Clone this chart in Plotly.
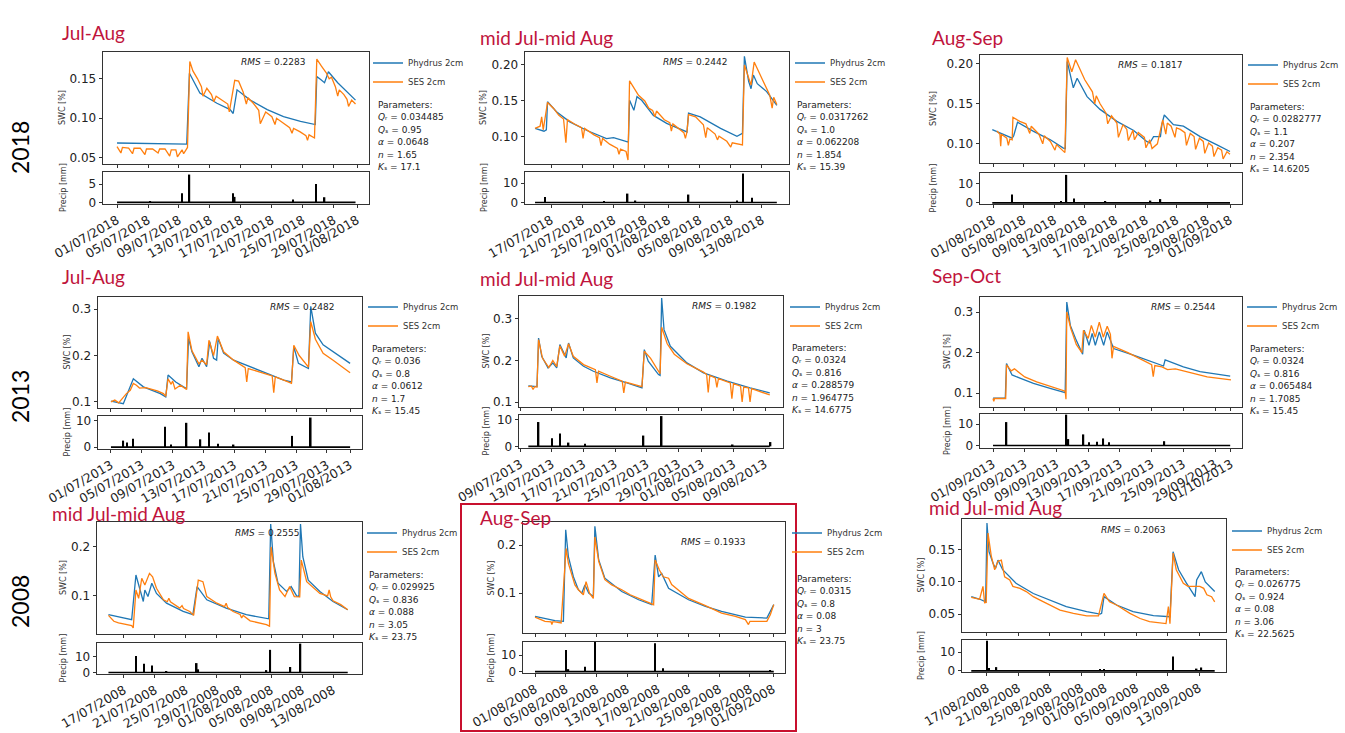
import pandas as pd
import plotly.graph_objects as go

W, H = 1345, 733
BLUE = "#1f77b4"
ORANGE = "#ff7f0e"
TITLE_RED = "#c0143c"

# ---------------------------------------------------------------- data
# day offsets are counted from each panel's start date
# Panel A: 2018 Jul-Aug
A_START = "2018-07-01"
A_PHY_DAY = [0, 9.0, 9.35, 10.7, 12.9, 14.6, 15.0, 15.5, 17.2, 19.4, 21.5, 23.7, 25.6, 25.8, 26.3, 26.8, 27.3, 28.5, 30.8]
A_PHY = [0.0686, 0.0673, 0.157, 0.132, 0.119, 0.111, 0.106, 0.136, 0.123, 0.111, 0.102, 0.096, 0.092, 0.153, 0.149, 0.145, 0.159, 0.145, 0.123]
A_SES_DAY = [0, 0.5, 0.7, 1.5, 2.0, 2.2, 3.0, 3.6, 3.8, 4.6, 5.3, 5.5, 6.2, 6.8, 7.0, 7.6, 7.8, 8.4, 8.6, 9.1,
             9.4, 9.8, 10.4, 10.9, 11.1, 11.6, 12.2, 12.5, 12.8, 13.6, 14.3, 14.5, 14.7, 15.2, 15.7, 16.3, 16.7, 16.9, 17.6, 18.3,
             18.5, 19.2, 20.0, 20.4, 20.6, 21.4, 22.3, 22.6, 22.8, 23.6, 24.4, 24.6, 24.8, 25.5, 25.8, 26.4, 27.0, 27.4, 27.7, 28.2,
             28.5, 28.7, 29.3, 29.7, 29.9, 30.3, 30.8]
A_SES = [0.064, 0.056, 0.063, 0.062, 0.055, 0.062, 0.062, 0.054, 0.061, 0.061, 0.056, 0.061, 0.061, 0.052, 0.060, 0.060, 0.051, 0.060, 0.055, 0.063,
         0.172, 0.160, 0.150, 0.140, 0.128, 0.138, 0.130, 0.121, 0.128, 0.123, 0.118, 0.108, 0.118, 0.148, 0.147, 0.133, 0.118, 0.126, 0.119, 0.110,
         0.093, 0.108, 0.102, 0.092, 0.100, 0.094, 0.088, 0.081, 0.087, 0.083, 0.078, 0.072, 0.079, 0.075, 0.175, 0.166, 0.158, 0.150, 0.152, 0.140,
         0.128, 0.136, 0.130, 0.124, 0.115, 0.123, 0.118]
A_RAIN_DAY = [4.3, 8.4, 9.35, 15.0, 15.2, 22.7, 25.7, 26.8]
A_RAIN = [0.2, 2.5, 7.6, 2.5, 1.5, 0.8, 5.0, 1.4]
A_TICKS = ["01/07/2018", "05/07/2018", "09/07/2018", "13/07/2018", "17/07/2018", "21/07/2018", "25/07/2018", "29/07/2018", "01/08/2018"]

# Panel B: 2018 mid Jul-mid Aug
B_START = "2018-07-17"
B_PHY_DAY = [-2.05, -0.9, -0.6, -0.45, 0.7, 2.4, 4.6, 6.7, 7.1, 8.0, 9.9, 10.05, 10.6, 11.0, 11.6, 13.1, 14.8, 17.4, 17.6, 19.1,
             21.7, 23.8, 24.5, 24.75, 25.3, 25.6, 25.9, 26.4, 27.6, 28.9]
B_PHY = [0.112, 0.108, 0.110, 0.149, 0.135, 0.121, 0.109, 0.099, 0.0977, 0.099, 0.093, 0.151, 0.137, 0.156, 0.151, 0.130, 0.119, 0.107, 0.133, 0.128,
         0.112, 0.101, 0.105, 0.212, 0.177, 0.167, 0.186, 0.174, 0.163, 0.144]
B_SES_DAY = [-2.05, -1.4, -1.2, -1.0, -0.45, 0.3, 1.0, 1.6, 1.9, 2.1, 3.0, 3.9, 4.1, 4.3, 5.5, 6.2, 6.4, 6.6, 7.5, 8.5,
             8.7, 8.9, 9.6, 9.85, 10.05, 10.5, 11.2, 12.0, 12.5, 13.0, 13.3, 13.5, 14.5, 15.2, 15.4, 15.6, 16.5, 17.0, 17.2, 17.4,
             17.6, 18.5, 19.5, 19.8, 20.0, 21.0, 21.3, 21.5, 22.5, 23.0, 23.2, 24.5, 24.75, 25.2, 25.6, 26.0, 26.5, 27.0, 27.5, 28.0,
             28.3, 28.5, 28.9]
B_SES = [0.112, 0.115, 0.128, 0.110, 0.148, 0.140, 0.130, 0.125, 0.092, 0.124, 0.118, 0.113, 0.098, 0.112, 0.103, 0.099, 0.088, 0.098, 0.090, 0.084,
         0.076, 0.083, 0.080, 0.068, 0.178, 0.170, 0.158, 0.150, 0.140, 0.137, 0.128, 0.136, 0.124, 0.120, 0.108, 0.118, 0.110, 0.106, 0.098, 0.107,
         0.131, 0.128, 0.117, 0.099, 0.113, 0.104, 0.096, 0.101, 0.094, 0.086, 0.092, 0.089, 0.200, 0.186, 0.172, 0.204, 0.193, 0.180, 0.170, 0.158,
         0.140, 0.155, 0.145]
B_RAIN_DAY = [-0.77, 6.8, 9.8, 10.8, 17.6, 23.8, 24.6, 25.7]
B_RAIN = [2.8, 0.8, 4.6, 1.0, 4.1, 1.0, 15.0, 2.5]
B_TICKS = ["17/07/2018", "21/07/2018", "25/07/2018", "29/07/2018", "01/08/2018", "05/08/2018", "09/08/2018", "13/08/2018"]

# Panel C: 2018 Aug-Sep
C_START = "2018-08-01"
C_PHY_DAY = [-0.1, 2.5, 2.7, 3.2, 5.3, 7.5, 9.2, 9.45, 9.7, 10.3, 10.5, 11.0, 12.3, 14.0, 16.2, 18.4, 20.1, 20.5, 21.0, 21.9,
             22.1, 22.4, 23.6, 24.9, 27.1, 29.3, 31.0]
C_PHY = [0.1176, 0.107, 0.110, 0.127, 0.1155, 0.105, 0.0946, 0.094, 0.203, 0.180, 0.170, 0.182, 0.159, 0.143, 0.128, 0.1167, 0.103, 0.101, 0.109, 0.109,
         0.125, 0.136, 0.124, 0.122, 0.109, 0.0987, 0.0904]
C_SES_DAY = [0.5, 0.9, 1.0, 1.1, 1.8, 2.0, 2.2, 2.5, 2.6, 3.5, 4.3, 4.8, 5.0, 6.0, 6.5, 6.7, 7.5, 8.1, 8.3, 9.4,
             9.7, 10.3, 10.8, 11.3, 12.0, 13.0, 13.3, 13.5, 14.0, 14.8, 15.0, 15.5, 16.2, 16.4, 17.0, 17.5, 17.7, 18.3, 18.5, 19.0,
             19.8, 20.0, 20.5, 20.8, 21.5, 22.2, 22.6, 22.8, 23.3, 23.8, 24.0, 24.5, 25.1, 25.3, 25.8, 26.3, 26.5, 27.0, 27.5, 27.7,
             28.2, 28.7, 28.9, 29.4, 29.9, 30.1, 30.6, 31.0]
C_SES = [0.116, 0.112, 0.097, 0.112, 0.107, 0.098, 0.106, 0.105, 0.133, 0.128, 0.125, 0.113, 0.122, 0.112, 0.100, 0.110, 0.103, 0.092, 0.099, 0.089,
         0.208, 0.190, 0.205, 0.195, 0.180, 0.165, 0.150, 0.160, 0.150, 0.138, 0.125, 0.135, 0.126, 0.108, 0.124, 0.118, 0.104, 0.117, 0.105, 0.114,
         0.108, 0.095, 0.105, 0.094, 0.100, 0.130, 0.112, 0.126, 0.122, 0.108, 0.120, 0.118, 0.114, 0.098, 0.113, 0.109, 0.093, 0.107, 0.103, 0.088,
         0.101, 0.097, 0.084, 0.095, 0.092, 0.081, 0.090, 0.087]
C_RAIN_DAY = [2.5, 8.9, 9.6, 10.6, 14.7, 20.6, 21.9]
C_RAIN = [4.4, 1.0, 14.8, 2.3, 0.5, 1.2, 2.0]
C_TICKS = ["01/08/2018", "05/08/2018", "09/08/2018", "13/08/2018", "17/08/2018", "21/08/2018", "25/08/2018", "29/08/2018", "01/09/2018"]

# Panel D: 2013 Jul-Aug
D_START = "2013-07-01"
D_PHY_DAY = [0, 1.6, 2.9, 4.2, 6.4, 7.1, 7.4, 8.1, 8.4, 9.4, 9.8, 10.06, 10.5, 11.4, 11.8, 12.4, 12.8, 13.3, 13.7, 13.9,
             14.6, 15.9, 18.0, 20.2, 22.4, 23.4, 23.7, 24.3, 25.6, 25.9, 26.5, 27.5, 28.8, 31.0]
D_PHY = [0.102, 0.0964, 0.150, 0.1325, 0.118, 0.111, 0.158, 0.147, 0.143, 0.1325, 0.129, 0.237, 0.208, 0.176, 0.194, 0.176, 0.230, 0.194, 0.190, 0.237,
         0.205, 0.190, 0.176, 0.161, 0.147, 0.143, 0.219, 0.183, 0.172, 0.306, 0.248, 0.223, 0.208, 0.183]
D_SES_DAY = [0, 0.5, 1.0, 1.6, 2.0, 2.5, 2.9, 3.3, 3.7, 4.5, 5.2, 6.0, 6.8, 7.1, 7.4, 7.8, 8.0, 8.3, 9.0, 9.8,
             10.0, 10.5, 11.4, 11.8, 12.4, 12.7, 13.3, 13.8, 14.6, 15.9, 17.4, 17.6, 17.8, 19.0, 20.0, 20.9, 21.1, 21.3, 22.4, 23.4,
             23.7, 24.4, 25.6, 25.9, 26.5, 27.5, 28.8, 31.0]
D_SES = [0.100, 0.104, 0.098, 0.110, 0.118, 0.125, 0.140, 0.136, 0.130, 0.131, 0.128, 0.124, 0.118, 0.112, 0.150, 0.138, 0.145, 0.128, 0.136, 0.127,
         0.251, 0.210, 0.182, 0.190, 0.180, 0.233, 0.200, 0.242, 0.208, 0.190, 0.174, 0.143, 0.172, 0.166, 0.160, 0.156, 0.120, 0.154, 0.147, 0.140,
         0.222, 0.200, 0.175, 0.273, 0.235, 0.205, 0.190, 0.163]
D_RAIN_DAY = [1.6, 2.1, 2.85, 7.0, 7.8, 9.8, 11.6, 12.7, 13.9, 15.9, 23.5, 25.9]
D_RAIN = [2.5, 1.8, 3.2, 7.8, 1.0, 9.3, 3.0, 5.6, 1.3, 1.0, 4.3, 11.3]
D_TICKS = ["01/07/2013", "05/07/2013", "09/07/2013", "13/07/2013", "17/07/2013", "21/07/2013", "25/07/2013", "29/07/2013", "01/08/2013"]

# Panel E: 2013 mid Jul-mid Aug
E_START = "2013-07-09"
E_PHY_DAY = [1.0, 2.1, 2.3, 2.7, 3.5, 4.1, 4.6, 5.0, 5.8, 6.1, 6.7, 8.0, 9.25, 11.4, 13.5, 15.4, 15.7, 16.2, 17.5, 17.7,
             17.9, 18.2, 19.0, 21.1, 23.2, 26.2, 29.1, 31.6]
E_PHY = [0.139, 0.137, 0.254, 0.210, 0.182, 0.194, 0.182, 0.238, 0.206, 0.242, 0.206, 0.186, 0.174, 0.158, 0.146, 0.134, 0.226, 0.198, 0.166, 0.164,
         0.350, 0.274, 0.234, 0.194, 0.170, 0.150, 0.134, 0.122]
E_SES_DAY = [1.0, 1.4, 1.6, 1.8, 2.1, 2.3, 2.8, 3.6, 4.1, 4.6, 5.0, 5.6, 6.1, 6.7, 8.0, 9.5, 9.7, 9.9, 11.4, 12.9,
             13.1, 13.3, 15.4, 15.7, 16.5, 17.5, 17.7, 17.9, 18.6, 19.5, 21.1, 23.2, 23.6, 23.8, 24.0, 24.7, 24.9, 25.1, 26.2, 26.6,
             26.8, 27.0, 27.9, 28.1, 28.3, 28.9, 29.1, 29.3, 31.6]
E_SES = [0.137, 0.138, 0.130, 0.137, 0.136, 0.250, 0.205, 0.183, 0.200, 0.185, 0.235, 0.210, 0.240, 0.210, 0.190, 0.178, 0.146, 0.174, 0.162, 0.150,
         0.122, 0.148, 0.137, 0.222, 0.205, 0.172, 0.168, 0.280, 0.240, 0.215, 0.192, 0.172, 0.166, 0.123, 0.164, 0.158, 0.135, 0.156, 0.150, 0.146,
         0.108, 0.144, 0.138, 0.100, 0.136, 0.134, 0.100, 0.132, 0.117]
E_RAIN_DAY = [2.3, 4.0, 5.0, 6.1, 8.2, 15.6, 17.9, 26.9, 31.7]
E_RAIN = [9.0, 3.0, 4.8, 1.4, 1.0, 4.0, 11.2, 0.7, 1.6]
E_TICKS = ["09/07/2013", "13/07/2013", "17/07/2013", "21/07/2013", "25/07/2013", "29/07/2013", "01/08/2013", "05/08/2013", "09/08/2013"]

# Panel F: 2013 Sep-Oct
F_START = "2013-09-01"
F_PHY_DAY = [0, 1.55, 1.7, 2.4, 3.4, 5.1, 7.2, 9.1, 9.3, 9.75, 10.4, 11.3, 11.5, 12.1, 12.5, 12.9, 13.4, 13.95, 14.4, 15.2,
             17.7, 19.8, 21.5, 21.7, 24.0, 26.1, 29.9]
F_PHY = [0.0878, 0.0878, 0.173, 0.145, 0.137, 0.124, 0.112, 0.1016, 0.3245, 0.267, 0.235, 0.196, 0.255, 0.218, 0.247, 0.218, 0.251, 0.218, 0.251, 0.210,
         0.194, 0.178, 0.167, 0.182, 0.165, 0.153, 0.142]
F_SES_DAY = [0, 0.1, 0.2, 1.6, 1.7, 2.3, 2.7, 4.0, 5.5, 7.5, 9.1, 9.2, 9.3, 9.8, 10.5, 11.2, 11.4, 12.0, 12.4, 12.9,
             13.4, 13.9, 14.4, 14.8, 15.0, 15.2, 17.0, 20.0, 20.2, 20.4, 21.3, 22.0, 23.0, 25.0, 27.0, 30.0]
F_SES = [0.087, 0.080, 0.087, 0.087, 0.170, 0.155, 0.160, 0.140, 0.128, 0.115, 0.105, 0.085, 0.300, 0.260, 0.220, 0.200, 0.255, 0.235, 0.267, 0.238,
         0.275, 0.238, 0.265, 0.245, 0.186, 0.215, 0.200, 0.170, 0.141, 0.168, 0.165, 0.158, 0.160, 0.150, 0.140, 0.133]
F_RAIN_DAY = [1.7, 9.25, 9.5, 11.4, 12.1, 13.1, 13.9, 14.6, 21.6]
F_RAIN = [11.0, 14.5, 3.0, 5.2, 1.5, 1.8, 3.3, 1.5, 2.0]
F_TICKS = ["01/09/2013", "05/09/2013", "09/09/2013", "13/09/2013", "17/09/2013", "21/09/2013", "25/09/2013", "29/09/2013", "01/10/2013"]

# Panel G: 2008 mid Jul-mid Aug
G_START = "2008-07-17"
G_PHY_DAY = [-2.0, 1.0, 1.55, 2.1, 2.5, 2.7, 3.1, 3.6, 4.2, 5.5, 7.65, 8.9, 9.45, 10.7, 13.2, 15.8, 18.4, 18.7, 18.95, 19.3,
             19.9, 21.0, 21.6, 22.3, 22.6, 22.8, 23.1, 23.8, 25.3, 27.0, 28.9]
G_PHY = [0.0615, 0.0514, 0.1426, 0.1088, 0.0885, 0.112, 0.0986, 0.1257, 0.105, 0.085, 0.0682, 0.0615, 0.119, 0.092, 0.075, 0.0615, 0.0534, 0.053, 0.247, 0.170,
         0.1257, 0.109, 0.119, 0.100, 0.099, 0.247, 0.180, 0.132, 0.109, 0.0885, 0.0716]
G_SES_DAY = [-2.0, -1.3, -0.7, 0.5, 1.0, 1.2, 1.55, 1.9, 2.3, 2.7, 3.3, 3.7, 4.2, 5.1, 5.6, 5.8, 6.0, 7.2, 7.5, 7.7,
             8.5, 9.0, 9.6, 10.2, 10.7, 12.0, 13.0, 13.2, 13.4, 14.1, 15.0, 15.2, 15.4, 16.3, 17.5, 18.4, 18.8, 19.0, 19.5, 20.1,
             20.8, 21.4, 22.0, 22.7, 22.9, 23.6, 25.3, 26.3, 26.5, 26.7, 27.0, 28.0, 28.9]
G_SES = [0.060, 0.048, 0.0446, 0.041, 0.039, 0.0345, 0.112, 0.095, 0.136, 0.122, 0.146, 0.139, 0.1155, 0.092, 0.088, 0.095, 0.088, 0.075, 0.080, 0.074,
         0.068, 0.060, 0.132, 0.129, 0.0986, 0.085, 0.078, 0.085, 0.076, 0.068, 0.062, 0.055, 0.060, 0.049, 0.045, 0.041, 0.038, 0.200, 0.146, 0.112,
         0.0986, 0.119, 0.0986, 0.098, 0.173, 0.129, 0.105, 0.100, 0.112, 0.098, 0.090, 0.082, 0.0716]
G_RAIN_DAY = [1.55, 2.6, 3.6, 5.5, 9.4, 9.6, 18.4, 18.9, 21.5, 22.8]
G_RAIN = [10.5, 5.5, 4.5, 0.5, 6.0, 2.0, 1.5, 14.5, 3.5, 18.5]
G_TICKS = ["17/07/2008", "21/07/2008", "25/07/2008", "29/07/2008", "01/08/2008", "05/08/2008", "09/08/2008", "13/08/2008"]

# Panel H: 2008 Aug-Sep
H_START = "2008-08-01"
H_PHY_DAY = [0, 2.6, 3.7, 4.0, 4.35, 5.0, 5.65, 6.1, 6.5, 7.0, 7.6, 7.8, 8.3, 9.1, 11.3, 13.5, 15.2, 15.65, 16.1, 16.5,
             17.4, 20.0, 22.2, 24.3, 27.4, 30.2, 30.65, 31.1]
H_PHY = [0.0517, 0.0428, 0.0414, 0.232, 0.176, 0.134, 0.107, 0.100, 0.117, 0.100, 0.093, 0.239, 0.169, 0.131, 0.1034, 0.0862, 0.0759, 0.179, 0.134, 0.141,
         0.110, 0.0862, 0.0724, 0.062, 0.050, 0.048, 0.062, 0.076]
H_SES_DAY = [0, 1.3, 2.1, 2.2, 2.3, 2.6, 3.4, 4.05, 4.35, 5.2, 5.65, 6.3, 6.65, 7.1, 7.6, 7.8, 8.3, 9.1, 10.0, 11.3,
             12.4, 13.5, 14.8, 15.45, 15.65, 16.2, 16.7, 17.4, 17.8, 19.1, 20.0, 22.2, 24.3, 26.1, 27.4, 27.8, 28.0, 28.7, 30.2, 30.65,
             31.1]
H_SES = [0.050, 0.0414, 0.040, 0.0345, 0.040, 0.040, 0.038, 0.193, 0.162, 0.117, 0.107, 0.0966, 0.124, 0.100, 0.089, 0.217, 0.166, 0.128, 0.117, 0.107,
         0.0966, 0.089, 0.0793, 0.0759, 0.169, 0.148, 0.134, 0.131, 0.118, 0.100, 0.089, 0.0738, 0.0586, 0.0517, 0.0448, 0.0345, 0.0414, 0.0414, 0.0414, 0.055,
         0.076]
H_RAIN_DAY = [4.05, 4.35, 6.5, 7.8, 15.65, 16.7, 30.65]
H_RAIN = [13.0, 1.5, 3.0, 18.0, 17.0, 2.0, 1.0]
H_TICKS = ["01/08/2008", "05/08/2008", "09/08/2008", "13/08/2008", "17/08/2008", "21/08/2008", "25/08/2008", "29/08/2008", "01/09/2008"]

# Panel I: 2008 (17 Aug - 15 Sep)
I_START = "2008-08-17"
I_PHY_DAY = [-2.0, -0.9, -0.17, 0.0, 0.26, 0.77, 1.1, 1.4, 2.0, 3.7, 5.9, 8.0, 10.1, 12.7, 14.4, 14.6, 14.9, 16.5, 18.6, 21.2,
             23.3, 23.7, 24.4, 25.4, 26.5, 26.7, 27.3, 27.8, 29.0]
I_PHY = [0.077, 0.073, 0.069, 0.1917, 0.147, 0.129, 0.121, 0.134, 0.119, 0.098, 0.082, 0.0719, 0.0615, 0.0536, 0.050, 0.051, 0.077, 0.064, 0.0536, 0.0474,
         0.0458, 0.147, 0.119, 0.098, 0.077, 0.103, 0.116, 0.100, 0.085]
I_SES_DAY = [-2.0, -0.94, -0.51, -0.3, -0.1, 0.13, 0.55, 0.98, 1.4, 1.83, 2.25, 2.9, 3.3, 4.2, 5.0, 5.9, 6.7, 8.0, 9.3, 11.0,
             12.7, 14.2, 14.9, 15.6, 16.5, 18.2, 19.5, 20.7, 22.8, 23.1, 23.3, 23.7, 24.1, 25.0, 25.6, 27.1, 27.6, 28.0, 28.6, 29.0]
I_SES = [0.076, 0.073, 0.093, 0.0677, 0.068, 0.176, 0.140, 0.119, 0.132, 0.134, 0.108, 0.103, 0.093, 0.090, 0.085, 0.077, 0.072, 0.064, 0.056, 0.051,
         0.047, 0.047, 0.082, 0.069, 0.064, 0.051, 0.043, 0.038, 0.035, 0.0615, 0.035, 0.145, 0.119, 0.098, 0.093, 0.093, 0.090, 0.080, 0.077, 0.069]
I_RAIN_DAY = [0.0, 0.26, 1.2, 14.4, 14.9, 23.7, 26.7, 27.3]
I_RAIN = [16.0, 1.5, 2.0, 0.8, 0.8, 7.7, 1.2, 1.8]
I_TICKS = ["17/08/2008", "21/08/2008", "25/08/2008", "29/08/2008", "01/09/2008", "05/09/2008", "09/09/2008", "13/09/2008"]

PANEL_TITLES = ["Jul-Aug", "mid Jul-mid Aug", "Aug-Sep", "Jul-Aug", "mid Jul-mid Aug", "Sep-Oct",
                "mid Jul-mid Aug", "Aug-Sep", "mid Jul-mid Aug"]
YEARS = ["2018", "2013", "2008"]
RMS = ["0.2283", "0.2442", "0.1817", "0.2482", "0.1982", "0.2544", "0.2555", "0.1933", "0.2063"]
PARAM_QR = ["0.034485", "0.0317262", "0.0282777", "0.036", "0.0324", "0.0324", "0.029925", "0.0315", "0.026775"]
PARAM_QS = ["0.95", "1.0", "1.1", "0.8", "0.816", "0.816", "0.836", "0.8", "0.924"]
PARAM_ALPHA = ["0.0648", "0.062208", "0.207", "0.0612", "0.288579", "0.065484", "0.088", "0.08", "0.08"]
PARAM_N = ["1.65", "1.854", "2.354", "1.7", "1.964775", "1.7085", "3.05", "3", "3.06"]
PARAM_KS = ["17.1", "15.39", "14.6205", "15.45", "14.6775", "15.45", "23.75", "23.75", "22.5625"]

PANELS = [
    (A_START, A_PHY_DAY, A_PHY, A_SES_DAY, A_SES, A_RAIN_DAY, A_RAIN, A_TICKS),
    (B_START, B_PHY_DAY, B_PHY, B_SES_DAY, B_SES, B_RAIN_DAY, B_RAIN, B_TICKS),
    (C_START, C_PHY_DAY, C_PHY, C_SES_DAY, C_SES, C_RAIN_DAY, C_RAIN, C_TICKS),
    (D_START, D_PHY_DAY, D_PHY, D_SES_DAY, D_SES, D_RAIN_DAY, D_RAIN, D_TICKS),
    (E_START, E_PHY_DAY, E_PHY, E_SES_DAY, E_SES, E_RAIN_DAY, E_RAIN, E_TICKS),
    (F_START, F_PHY_DAY, F_PHY, F_SES_DAY, F_SES, F_RAIN_DAY, F_RAIN, F_TICKS),
    (G_START, G_PHY_DAY, G_PHY, G_SES_DAY, G_SES, G_RAIN_DAY, G_RAIN, G_TICKS),
    (H_START, H_PHY_DAY, H_PHY, H_SES_DAY, H_SES, H_RAIN_DAY, H_RAIN, H_TICKS),
    (I_START, I_PHY_DAY, I_PHY, I_SES_DAY, I_SES, I_RAIN_DAY, I_RAIN, I_TICKS),
]

# ---------------------------------------------------------------- layout geometry (pixels)
# x0, x1, swc_top, swc_bottom, precip_top, precip_bottom
BOX = [(103, 369, 52, 164, 172, 204), (525, 789, 52, 164, 172, 204), (980, 1242, 55, 163, 173, 204),
       (98, 362, 297, 408, 416, 449), (519, 783, 296, 407, 415, 448), (980, 1242, 297, 407, 414, 448),
       (97, 362, 522, 634, 643, 674), (523, 785, 522, 633, 642, 673), (962, 1226, 519, 632, 640, 672)]
XRANGE = [("2018-06-29 04:30", "2018-08-02 13:00"), ("2018-07-13 16:00", "2018-08-16 11:00"),
          ("2018-07-30 07:00", "2018-09-02 13:40"), ("2013-06-29 07:40", "2013-08-02 13:00"),
          ("2013-07-08 19:40", "2013-08-11 06:40"), ("2013-08-30 08:40", "2013-10-02 09:20"),
          ("2008-07-13 12:30", "2008-08-16 17:50"), ("2008-07-30 10:30", "2008-09-02 13:30"),
          ("2008-08-13 19:40", "2008-09-16 10:30")]
YR_SWC = [(0.042, 0.184), (0.0625, 0.218), (0.076, 0.211), (0.087, 0.326), (0.088, 0.355), (0.066, 0.337),
          (0.022, 0.251), (0.017, 0.248), (0.022, 0.198)]
YR_P = [(-0.45, 8.3), (-0.8, 15.8), (-0.6, 15.8), (-0.7, 11.9), (-0.6, 11.6), (-1.2, 14.8),
        (-1.0, 18.9), (-0.8, 17.8), (-0.6, 16.4)]
YT_SWC = [[0.05, 0.10, 0.15], [0.10, 0.15, 0.20], [0.10, 0.15, 0.20], [0.1, 0.2, 0.3], [0.1, 0.2, 0.3],
          [0.1, 0.2, 0.3], [0.1, 0.2], [0.1, 0.2], [0.05, 0.10, 0.15]]
YFMT = [".2f", ".2f", ".2f", ".1f", ".1f", ".1f", ".1f", ".1f", ".2f"]
YT_P = [[0, 5], [0, 10], [0, 10], [0, 10], [0, 10], [0, 10], [0, 10], [0, 10], [0, 10]]
YLAB_X = [63, 484, 933, 67, 486, 947, 63, 491, 921]
LEG = [(373, 63), (795, 63), (1248, 65), (368, 307), (790, 307), (1247, 307), (367, 533), (792, 533), (1232, 531)]
RMS_POS = [(273, 62), (695, 62), (1150, 65), (302, 307), (724, 306), (1183, 307), (267, 533), (713, 542), (1133, 530)]
PAR_POS = [(376, 105), (795, 105), (1248, 107), (370, 349), (790, 348), (1248, 349), (367, 575), (795, 579), (1233, 572)]
PAR_STEP = 12.4
TITLE_POS = [(60, 33), (478, 38), (930, 38), (60, 277), (478, 278), (930, 275), (50, 513), (478, 517), (927, 507)]
YEAR_POS = [(20, 148), (20, 397), (20, 602)]
NOTE_SIZE = 9


def px(x):
    return x / W


def py(y):
    return 1 - y / H


def to_dates(start, days):
    t0 = pd.Timestamp(start)
    return [(t0 + pd.Timedelta(days=float(d))).strftime("%Y-%m-%d %H:%M:%S") for d in days]


def tick_iso(labels):
    return [pd.to_datetime(s, format="%d/%m/%Y").strftime("%Y-%m-%d") for s in labels]


def it(s):
    return f"<i>{s}</i>"


def note(text, x, y, size, xanchor="left", yanchor="middle", angle=0, family="DejaVu Sans", color="#222"):
    return dict(text=text, x=px(x), y=py(y), xref="paper", yref="paper", showarrow=False,
                xanchor=xanchor, yanchor=yanchor, textangle=angle,
                font=dict(family=family, size=size, color=color))


YTICKFONT = dict(family="DejaVu Sans", size=12, color="#222")
XTICKFONT = dict(family="DejaVu Sans", size=12.5, color="#222")
AXCOL = "#333"

fig = go.Figure()
layout = dict(width=W, height=H, margin=dict(l=0, r=0, t=0, b=0), template="none",
              paper_bgcolor="white", plot_bgcolor="white", font=dict(family="DejaVu Sans", color="#222"),
              showlegend=True, annotations=[], shapes=[])

for i, (start, phd, ph, sed, se, rd, rv, ticks) in enumerate(PANELS):
    assert len(phd) == len(ph) and len(sed) == len(se) and len(rd) == len(rv)
    x0, x1, st, sb, pt, pb = BOX[i]
    n1, n2 = 2 * i + 1, 2 * i + 2
    xs = "x" if n1 == 1 else f"x{n1}"
    ys = "y" if n1 == 1 else f"y{n1}"
    xp, yp = f"x{n2}", f"y{n2}"
    leg = "legend" if i == 0 else f"legend{i + 1}"

    fig.add_trace(go.Scatter(x=to_dates(start, phd), y=ph, mode="lines", name="Phydrus 2cm",
                             line=dict(color=BLUE, width=1.3), xaxis=xs, yaxis=ys, legend=leg))
    fig.add_trace(go.Scatter(x=to_dates(start, sed), y=se, mode="lines", name="SES 2cm",
                             line=dict(color=ORANGE, width=1.3), xaxis=xs, yaxis=ys, legend=leg))
    span = to_dates(start, [phd[0], phd[-1]])
    fig.add_trace(go.Scatter(x=span, y=[0, 0], mode="lines", line=dict(color="black", width=1.6),
                             showlegend=False, hoverinfo="skip", xaxis=xp, yaxis=yp))
    fig.add_trace(go.Bar(x=to_dates(start, rd), y=rv, width=0.2 * 86400000,
                         marker=dict(color="black", line=dict(width=0)), showlegend=False,
                         xaxis=xp, yaxis=yp))

    tv = tick_iso(ticks)
    common_x = dict(domain=[px(x0), px(x1)], range=list(XRANGE[i]), type="date", tickvals=tv, ticktext=ticks,
                    ticks="outside", ticklen=3.5, tickwidth=0.8, tickcolor=AXCOL, showline=True, mirror=True,
                    linecolor=AXCOL, linewidth=0.8, showgrid=False, zeroline=False, tickfont=XTICKFONT)
    layout["xaxis" if n1 == 1 else f"xaxis{n1}"] = dict(common_x, anchor=ys, showticklabels=False)
    layout[f"xaxis{n2}"] = dict(common_x, anchor=yp, showticklabels=True, tickangle=-30)
    common_y = dict(ticks="outside", ticklen=3.5, tickwidth=0.8, tickcolor=AXCOL, showline=True, mirror=True,
                    linecolor=AXCOL, linewidth=0.8, showgrid=False, zeroline=False, tickfont=YTICKFONT)
    layout["yaxis" if n1 == 1 else f"yaxis{n1}"] = dict(
        common_y, domain=[py(sb), py(st)], range=list(YR_SWC[i]), anchor=xs, tickvals=YT_SWC[i],
        tickformat=YFMT[i])
    layout[f"yaxis{n2}"] = dict(
        common_y, domain=[py(pb), py(pt)], range=list(YR_P[i]), anchor=xp, tickvals=YT_P[i])

    # axis labels
    layout["annotations"].append(note("SWC [%]", YLAB_X[i], (st + sb) / 2, 8, "center", "middle", -90,
                                      color="#333"))
    layout["annotations"].append(note("Precip [mm]", YLAB_X[i], (pt + pb) / 2, 8, "center", "middle", -90,
                                      color="#333"))

    lx, ly = LEG[i]
    layout[leg] = dict(x=px(lx - 5), y=py(ly - 14.5), xanchor="left", yanchor="top",
                       font=dict(size=8.5, color="#333"), bgcolor="rgba(255,255,255,0)",
                       borderwidth=0, tracegroupgap=0, itemwidth=30)

    rx, ry = RMS_POS[i]
    layout["annotations"].append(note(f"{it('RMS')} = {RMS[i]}", rx, ry, NOTE_SIZE, "center", "middle"))

    # subscripts written with unicode subscript letters (r = U+1D63, s = U+209B)
    plines = ["Parameters:",
              f"{it('Q')}\u1d63 = {PARAM_QR[i]}",
              f"{it('Q')}\u209b = {PARAM_QS[i]}",
              f"{it('α')} = {PARAM_ALPHA[i]}",
              f"{it('n')} = {PARAM_N[i]}",
              f"{it('K')}\u209b = {PARAM_KS[i]}"]
    ax_, ay_ = PAR_POS[i]
    for k, line in enumerate(plines):
        layout["annotations"].append(note(line, ax_, ay_ + k * PAR_STEP, NOTE_SIZE, "left", "middle"))

    tx, ty = TITLE_POS[i]
    layout["annotations"].append(note(PANEL_TITLES[i], tx, ty, 19, "left", "middle", family="Lato",
                                      color=TITLE_RED))

for yr, (yx, yy) in zip(YEARS, YEAR_POS):
    layout["annotations"].append(note(yr, yx, yy, 23, "center", "middle", -90, family="Lato", color="black"))

# highlight frame around the 2008 Aug-Sep panel
layout["shapes"].append(dict(type="rect", xref="paper", yref="paper", x0=px(461), x1=px(796),
                             y0=py(731), y1=py(504), line=dict(color="#c8102e", width=2)))

fig.update_layout(**layout)
fig.write_html("out.html")
